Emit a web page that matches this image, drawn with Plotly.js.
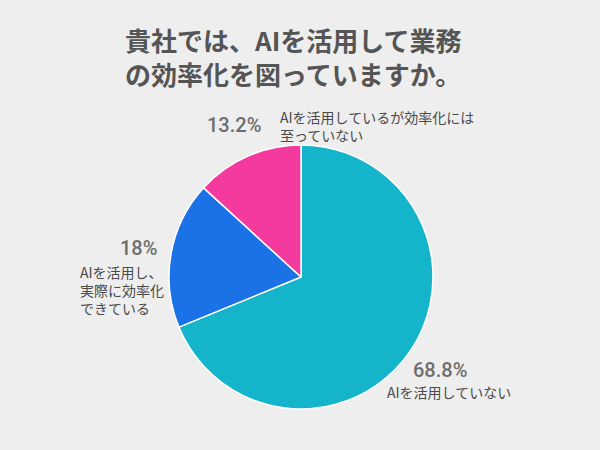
<!DOCTYPE html>
<html><head><meta charset="utf-8">
<script src="https://cdn.plot.ly/plotly-3.0.1.min.js"></script>
<style>html,body{margin:0;padding:0;background:#eeeeee;}</style>
</head><body>
<div id="chart" style="width:600px;height:450px;"></div>
<script>
const titleText = "貴社では、AIを活用して業務<br>の効率化を図っていますか。";
const categories = ["AIを活用していない", "AIを活用し、実際に効率化できている", "AIを活用しているが効率化には至っていない"];
const labelLines = ["AIを活用していない", "AIを活用し、<br>実際に効率化<br>できている", "AIを活用しているが効率化には<br>至っていない"];
const values = [68.8, 18, 13.2];
const colors = ["#14b4cb", "#1b72e6", "#f43a9f"];

const FONT = "'Noto Sans CJK JP', 'Noto Sans', sans-serif";
const W = 600, H = 450;
const px = x => x / W;
const py = y => 1 - y / H;

// label placements (pixel anchors) per category
const pctPos = [[440, 370, 'center'], [138, 248, 'center'], [234, 125, 'center']];
const txtPos = [[385, 392, 'left'], [78, 290, 'left'], [278, 126, 'left']];

const annotations = [];
values.forEach((v, i) => {
  annotations.push({
    text: v + "%", xref: 'paper', yref: 'paper',
    x: px(pctPos[i][0]), y: py(pctPos[i][1]), xanchor: pctPos[i][2], yanchor: 'middle',
    showarrow: false, font: {family: "Roboto, " + FONT, size: 20, color: '#6e6e6e', weight: 500}
  });
  annotations.push({
    text: labelLines[i], xref: 'paper', yref: 'paper', align: 'left',
    x: px(txtPos[i][0]), y: py(txtPos[i][1]), xanchor: txtPos[i][2], yanchor: 'middle',
    showarrow: false, font: {family: FONT, size: 14, color: '#4a4a4a'}
  });
});

const cx = 301, cy = 277, r = 132;
const data = [{
  type: 'pie',
  labels: categories,
  values: values,
  sort: false,
  direction: 'clockwise',
  rotation: 0,
  textinfo: 'none',
  hoverinfo: 'label+percent',
  marker: {colors: colors, line: {color: '#ffffff', width: 1.5}},
  domain: {x: [(cx - r) / W, (cx + r) / W], y: [1 - (cy + r) / H, 1 - (cy - r) / H]}
}];

const layout = {
  width: W, height: H,
  margin: {l: 0, r: 0, t: 0, b: 0},
  paper_bgcolor: '#eeeeee',
  plot_bgcolor: '#eeeeee',
  showlegend: false,
  title: {
    text: titleText, xref: 'paper', yref: 'paper',
    x: px(125), xanchor: 'left', y: py(51), yanchor: 'top',
    font: {family: FONT, size: 26, color: '#555555', weight: 'bold'}
  },
  annotations: annotations
};

Plotly.newPlot('chart', data, layout, {displayModeBar: false, staticPlot: true});
</script>
</body></html>
